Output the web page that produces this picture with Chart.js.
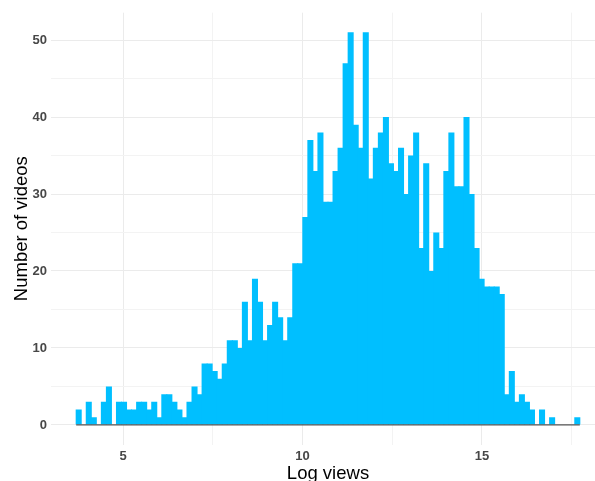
<!DOCTYPE html>
<html>
<head>
<meta charset="utf-8">
<title>Log views histogram</title>
<script src="https://cdn.jsdelivr.net/npm/chart.js@4/dist/chart.umd.min.js"></script>
<style>
  html, body { margin: 0; padding: 0; overflow: hidden; background: #ffffff; }
  #wrap { width: 595px; height: 481px; overflow: hidden; position: relative; }
  canvas { display: block; }
</style>
</head>
<body>
<div id="wrap"><canvas id="chart" width="612" height="490"></canvas></div>
<script>
// Histogram of log view counts: 100 equal-width bins
const binStart = 3.69;
const binWidth = 0.1404;
const counts = [
  2, 0, 3, 1, 0, 3, 5, 0, 3, 3,
  2, 2, 3, 3, 2, 3, 1, 4, 4, 3,
  2, 1, 3, 5, 4, 8, 8, 7, 6, 8,
  11, 11, 10, 16, 11, 19, 16, 11, 13, 16,
  14, 11, 14, 21, 21, 27, 37, 33, 38, 29,
  29, 33, 36, 47, 51, 39, 36, 51, 32, 36,
  38, 40, 34, 33, 36, 30, 35, 38, 23, 34,
  20, 25, 23, 33, 38, 31, 31, 40, 30, 23,
  19, 18, 18, 18, 17, 4, 7, 3, 4, 3,
  2, 0, 2, 0, 1, 0, 0, 0, 0, 1
];
const xTicks = [5, 7.5, 10, 12.5, 15, 17.5];
const yTicks = [0, 5, 10, 15, 20, 25, 30, 35, 40, 45, 50];

const binEnd = binStart + counts.length * binWidth;
const barPoints = counts.map((c, i) => ({ x: binStart + (i + 0.5) * binWidth, y: c }));

// axis ranges padded by 5% of the data span on each side
const xPad = (binEnd - binStart) * 0.05;
const yMaxData = Math.max(...counts);
const yPad = yMaxData * 0.05;

const majorGrid = '#EBEBEB';
const minorGrid = '#F3F3F3';
const tickFont = { family: 'Liberation Sans, Arial, sans-serif', size: 13, weight: 'bold' };
const titleFont = { family: 'Liberation Sans, Arial, sans-serif', size: 18.5, weight: 'normal' };

new Chart(document.getElementById('chart'), {
  data: {
    datasets: [
      {
        type: 'line',
        data: [{ x: binStart, y: 0 }, { x: binEnd, y: 0 }],
        borderColor: '#555555',
        borderWidth: 1.2,
        pointRadius: 0,
        order: 0
      },
      {
        type: 'bar',
        data: barPoints,
        backgroundColor: '#00BFFF',
        borderWidth: 0,
        inflateAmount: 0,
        // neighbouring bins overlap by about a pixel so they join without seams
        barPercentage: 1.2,
        categoryPercentage: 1,
        order: 1
      }
    ]
  },
  options: {
    responsive: false,
    animation: false,
    devicePixelRatio: 1,
    layout: { padding: { top: 12.7, right: 7, bottom: 0, left: 0 } },
    plugins: { legend: { display: false }, tooltip: { enabled: false } },
    scales: {
      x: {
        type: 'linear',
        offset: false,
        min: binStart - xPad,
        max: binEnd + xPad,
        afterBuildTicks: s => { s.ticks = xTicks.map(v => ({ value: v })); },
        afterFit: s => { s.height = 45.4; },
        border: { display: false },
        grid: {
          offset: false,
          drawTicks: false,
          color: c => (c.tick && c.tick.value % 5 === 0 ? majorGrid : minorGrid),
          lineWidth: 1
        },
        ticks: {
          autoSkip: false,
          maxRotation: 0,
          padding: 3.6,
          color: '#474747',
          font: tickFont,
          callback: v => (v % 5 === 0 ? String(v) : '')
        },
        title: {
          display: true,
          text: 'Log views',
          color: '#000000',
          font: titleFont,
          padding: { top: 0, bottom: 5.4 }
        }
      },
      y: {
        type: 'linear',
        min: -yPad,
        max: yMaxData + yPad,
        afterBuildTicks: s => { s.ticks = yTicks.map(v => ({ value: v })); },
        afterFit: s => { s.width = 51; },
        border: { display: false },
        grid: {
          drawTicks: false,
          color: c => (c.tick && c.tick.value % 10 === 0 ? majorGrid : minorGrid),
          lineWidth: 1
        },
        ticks: {
          autoSkip: false,
          padding: 4,
          color: '#474747',
          font: tickFont,
          callback: v => (v % 10 === 0 ? String(v) : '')
        },
        title: {
          display: true,
          text: 'Number of videos',
          color: '#000000',
          font: titleFont,
          padding: { top: 10.4, bottom: 0 }
        }
      }
    }
  }
});
</script>
</body>
</html>
